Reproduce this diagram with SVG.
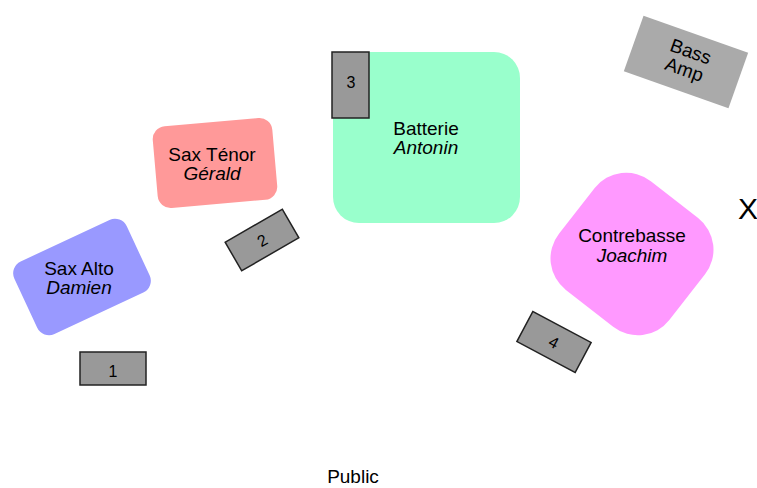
<svg xmlns="http://www.w3.org/2000/svg" width="757" height="488" viewBox="0 0 757 488">
<style>
text{font-family:"Liberation Sans",Arial,sans-serif;font-size:19px;fill:#000;text-anchor:middle}
.n{font-style:italic}
.mic rect{fill:#999;stroke:#222;stroke-width:1.5}
.mic text{font-size:16px}
</style>
<rect width="757" height="488" fill="#fff"/>
<g id="sax-alto">
<rect x="20" y="237" width="124" height="80" rx="13" fill="#9999ff" transform="rotate(-25 82 277)"/>
<text x="79" y="275">Sax Alto</text>
<text class="n" x="79" y="294">Damien</text>
</g>
<g id="sax-tenor">
<rect x="155" y="122" width="120" height="82" rx="13" fill="#ff9999" transform="rotate(-5 215 163)"/>
<text x="212" y="161">Sax Ténor</text>
<text class="n" x="212" y="180">Gérald</text>
</g>
<g id="batterie">
<rect x="333" y="52" width="187" height="171" rx="26" fill="#99ffcc"/>
<text x="426" y="135">Batterie</text>
<text class="n" x="426" y="154">Antonin</text>
</g>
<g id="contrebasse">
<rect x="562" y="185" width="140" height="138" rx="40" fill="#ff99ff" transform="rotate(38 632 254)"/>
<text x="632" y="242">Contrebasse</text>
<text class="n" x="632" y="262">Joachim</text>
</g>
<g id="bass-amp" transform="rotate(19.5 686 62)">
<rect x="630.5" y="32.5" width="111" height="59" fill="#aaaaaa"/>
<text x="687" y="57">Bass</text>
<text x="687" y="76">Amp</text>
</g>
<g id="mic1" class="mic">
<rect x="80" y="352" width="66" height="33"/>
<text x="113" y="377">1</text>
</g>
<g id="mic2" class="mic" transform="rotate(-30 262 240)">
<rect x="229" y="223.5" width="66" height="33"/>
<text x="262" y="246">2</text>
</g>
<g id="mic3" class="mic">
<rect x="332" y="52" width="37" height="66"/>
<text x="351" y="88">3</text>
</g>
<g id="mic4" class="mic" transform="rotate(28 554 342)">
<rect x="521" y="325" width="66" height="34"/>
<text x="554" y="348">4</text>
</g>
<g id="labels">
<text x="748" y="219" style="font-size:30px">X</text>
<text x="353" y="483">Public</text>
</g>
<g id="connectors"/>
</svg>
